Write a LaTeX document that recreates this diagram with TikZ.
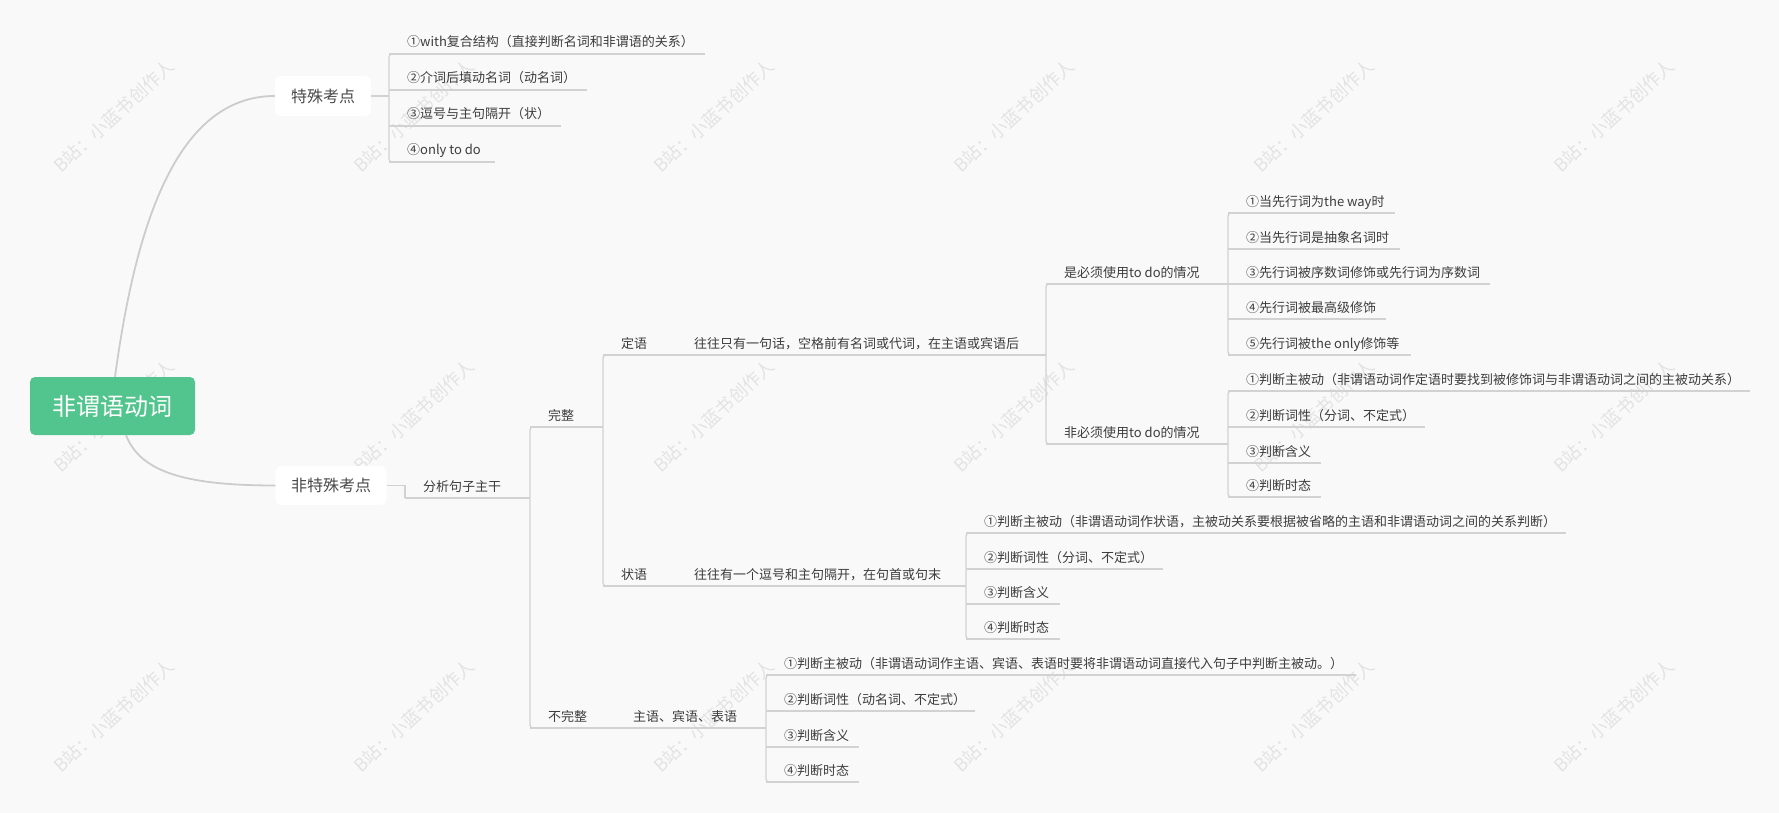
\documentclass[tikz,border=0pt]{standalone}
\usepackage{fontspec}
\newfontfamily\cjk{Noto Sans CJK SC}
\definecolor{bgc}{HTML}{F9F9F9}
\definecolor{linec}{HTML}{CCCCCC}
\definecolor{ulc}{HTML}{D2D2D2}
\definecolor{wmc}{HTML}{E3E3E3}
\definecolor{rootc}{HTML}{52C48D}
\definecolor{txtc}{HTML}{3C3C3C}
\definecolor{boxtxt}{HTML}{4A4A4A}
\tikzset{
  mainline/.style={draw=linec, line width=1.8pt},
  ul/.style={draw=ulc, line width=1.3pt},
  leaf/.style={anchor=base west, inner sep=0pt, text=txtc, font=\cjk\fontsize{13}{15}\selectfont},
  topicbox/.style={fill=white, rounded corners=6pt, text=boxtxt, font=\cjk\fontsize{16}{18}\selectfont, inner sep=0pt},
  rootbox/.style={fill=rootc, rounded corners=5pt, text=white, font=\cjk\fontsize{24}{28}\selectfont, minimum width=165pt, minimum height=58pt, inner sep=0pt},
  wm/.style={text=wmc, font=\cjk\fontsize{18}{20}\selectfont, inner sep=0pt},
}
\newcommand\leafnode[5]{%
  \coordinate (#1-l) at (#2,#3);
  \coordinate (#1-r) at (#4,#3);
  \node[leaf] (#1) at ([shift={(18,-7)}]#1-l) {#5};
  \draw[ul] (#1-l) -- (#1-r);
}
\newcommand\bracketline[2]{\draw[ul, rounded corners=3pt] ([xshift=12]#1-l) -- (#1-l) -- (#2-l) -- ([xshift=12]#2-l);}
\begin{document}
\begin{tikzpicture}[x=1pt,y=-1pt]
\useasboundingbox (0,0) rectangle (1779,813);
\fill[bgc] (0,0) rectangle (1779,813);
% watermarks
\foreach \wx in {114,414,714,1014,1314,1614} {
  \foreach \wy in {116,416,716} {
    \node[wm, rotate=42.5] (wm\wx-\wy) at (\wx,\wy) {B站：小蓝书创作人};
  }
}
% main topics
\node[rootbox] (R) at (112.5,406) {非谓语动词};
\node[topicbox, minimum width=96pt, minimum height=40pt] (T1) at (323,96) {特殊考点};
\node[topicbox, minimum width=111pt, minimum height=39pt] (T2) at (331,485.5) {非特殊考点};
\draw[mainline] ([xshift=2.5]R.north) .. controls +(20,-147) and +(-100,0) .. (T1.west);
\draw[mainline] ([xshift=13.5]R.south) .. controls +(14,35) and +(-95,0) .. (T2.west);

% special points
\leafnode{a1}{389}{54}{705}{①with复合结构（直接判断名词和非谓语的关系）}
\leafnode{a2}{389}{90}{587}{②介词后填动名词（动名词）}
\leafnode{a3}{389}{126}{561}{③逗号与主句隔开（状）}
\leafnode{a4}{389}{162}{495}{④only to do}
\bracketline{a1}{a4}
\draw[ul] (T1.east) -- (T1.east -| a1-l);

% non-special
\leafnode{F}{405}{498}{530}{分析句子主干}
\draw[ul] (T2.east) -| (F-l);
\leafnode{W}{530}{427}{603}{完整}
\leafnode{N}{530}{728}{615}{不完整}
\bracketline{W}{N}
\leafnode{N2}{615}{728}{766}{主语、宾语、表语}

\leafnode{D}{603}{355}{676}{定语}
\leafnode{D2}{676}{355}{1046}{往往只有一句话，空格前有名词或代词，在主语或宾语后}
\leafnode{Z}{603}{586}{676}{状语}
\leafnode{Z2}{676}{586}{966}{往往有一个逗号和主句隔开，在句首或句末}
\bracketline{D}{Z}

\leafnode{M}{1046}{284}{1228}{是必须使用to do的情况}
\leafnode{NM}{1046}{444}{1228}{非必须使用to do的情况}
\bracketline{M}{NM}

\leafnode{m1}{1228}{213}{1395}{①当先行词为the way时}
\leafnode{m2}{1228}{249}{1400}{②当先行词是抽象名词时}
\leafnode{m3}{1228}{284}{1490}{③先行词被序数词修饰或先行词为序数词}
\leafnode{m4}{1228}{319}{1386}{④先行词被最高级修饰}
\leafnode{m5}{1228}{355}{1411}{⑤先行词被the only修饰等}
\bracketline{m1}{m5}

\leafnode{n1}{1228}{391}{1750}{①判断主被动（非谓语动词作定语时要找到被修饰词与非谓语动词之间的主被动关系）}
\leafnode{n2}{1228}{427}{1425}{②判断词性（分词、不定式）}
\leafnode{n3}{1228}{463}{1321}{③判断含义}
\leafnode{n4}{1228}{497}{1321}{④判断时态}
\bracketline{n1}{n4}

\leafnode{z1}{966}{533}{1566}{①判断主被动（非谓语动词作状语，主被动关系要根据被省略的主语和非谓语动词之间的关系判断）}
\leafnode{z2}{966}{569}{1163}{②判断词性（分词、不定式）}
\leafnode{z3}{966}{604}{1060}{③判断含义}
\leafnode{z4}{966}{639}{1060}{④判断时态}
\bracketline{z1}{z4}

\leafnode{p1}{766}{675}{1356}{①判断主被动（非谓语动词作主语、宾语、表语时要将非谓语动词直接代入句子中判断主被动。）}
\leafnode{p2}{766}{711}{975}{②判断词性（动名词、不定式）}
\leafnode{p3}{766}{747}{859}{③判断含义}
\leafnode{p4}{766}{782}{859}{④判断时态}
\bracketline{p1}{p4}
\end{tikzpicture}
\end{document}
